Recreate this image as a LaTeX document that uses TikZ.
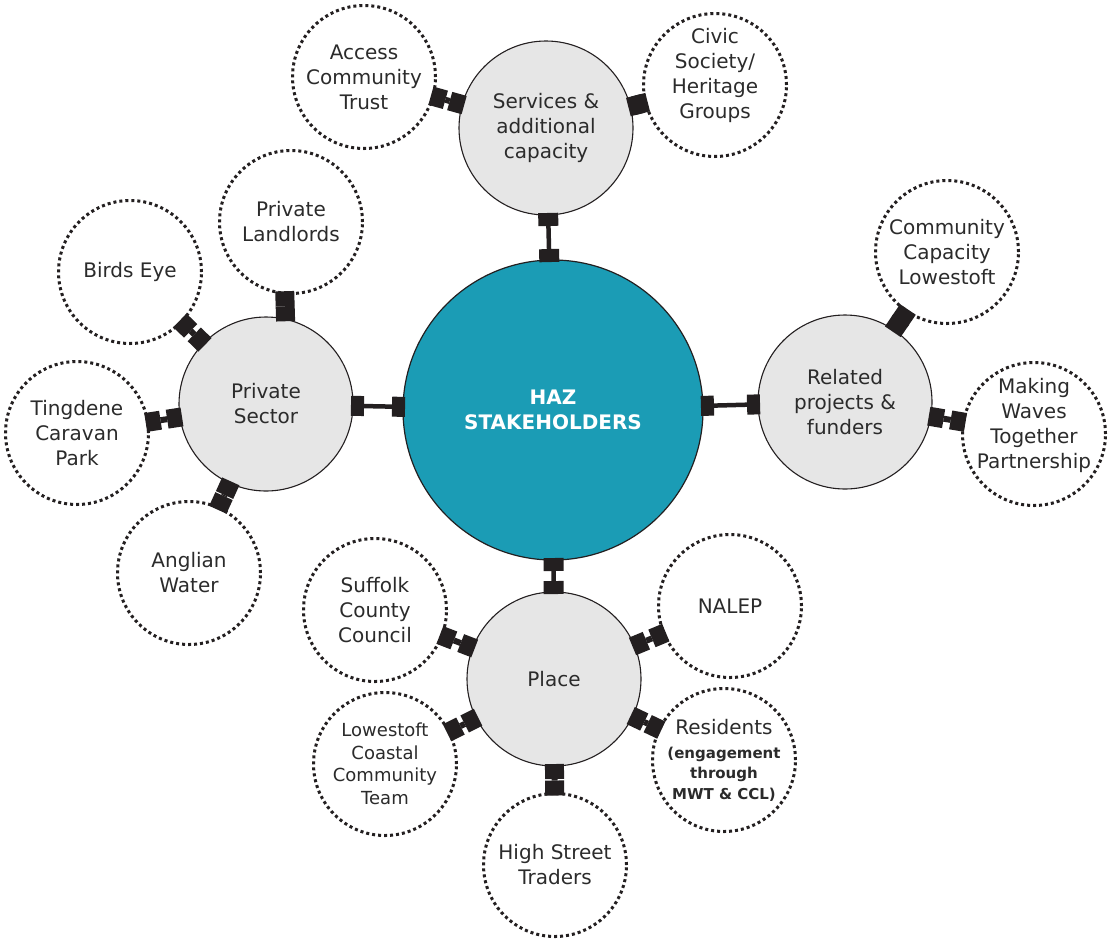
\documentclass[tikz,border=0pt]{standalone}
\usepackage{fontspec}
\setmainfont{DejaVu Sans}
\usetikzlibrary{arrows.meta}
\definecolor{hazteal}{HTML}{1B9CB5}
\definecolor{hubgray}{HTML}{E6E6E6}
\definecolor{ink}{HTML}{231F20}
\definecolor{txt}{HTML}{2B2B2B}
\newcommand{\smallfont}{\fontsize{15}{19}\selectfont\bfseries}
\tikzset{
  blk/.tip={Rectangle[length=13pt,width=20pt,line width=0pt]},
  stub/.tip={Rectangle[length=15pt,width=19pt,line width=0pt]}
}
\begin{document}
\begin{tikzpicture}[x=1pt,y=-1pt,
  every node/.style={font=\fontsize{20}{25}\selectfont, text=txt, align=center,
    inner sep=0pt, outer sep=0pt},
  core/.style={circle, minimum size=300pt, fill=hazteal, draw=ink, line width=1.2pt,
    text=white, font=\bfseries\fontsize{20}{25}\selectfont},
  hub/.style={circle, minimum size=174pt, fill=hubgray, draw=ink, line width=1.1pt},
  leaf/.style={circle, minimum size=143pt, fill=white, draw=ink, line width=3pt,
    dash pattern=on 3pt off 3pt},
  link/.style={draw=ink, line width=4.5pt, {blk}-{blk},
    shorten <=-2pt, shorten >=-2pt},
  spoke/.style={draw=ink, line width=6pt, {stub}-{stub},
    shorten <=-2pt, shorten >=-2pt}
]
\useasboundingbox[fill=white] (0,0) rectangle (1110,938);

% centre and the four hubs
\node[core] (haz) at (553,410) {HAZ\\STAKEHOLDERS};
\node[hub] (svc) at (546,128) {Services \&\\additional\\capacity};
\node[hub] (prv) at (266,404) {Private\\Sector};
\node[hub] (rel) at (845,402) {Related\\projects \&\\funders};
\node[hub] (plc) at (554,679) {Place};

% stakeholders around the hubs
\node[leaf] (act) at (364,77) {Access\\Community\\Trust};
\node[leaf, label={[yshift=10pt]center:Civic\\Society/\\Heritage\\Groups}] (civ) at (715,85) {};
\node[leaf] (pll) at (291,222) {Private\\Landlords};
\node[leaf] (bde) at (130,272) {Birds Eye};
\node[leaf] (tcp) at (77,433) {Tingdene\\Caravan\\Park};
\node[leaf] (awa) at (189,573) {Anglian\\Water};
\node[leaf] (ccl) at (947,252) {Community\\Capacity\\Lowestoft};
\node[leaf, label={[yshift=9pt]center:Making\\Waves\\Together\\Partnership}] (mwt) at (1034,434) {};
\node[leaf] (scc) at (375,610) {Suffolk\\County\\Council};
\node[leaf] (nal) at (730,606) {NALEP};
\node[leaf, font=\fontsize{18}{22.5}\selectfont] (lcc) at (385,764) {Lowestoft\\Coastal\\Community\\Team};
\node[leaf] (res) at (724,760) {Residents\\[-1pt]\smallfont (engagement\\[-5pt]\smallfont through\\[-4pt]\smallfont MWT \& CCL)};
\node[leaf] (hst) at (555,865) {High Street\\Traders};

% hub links
\foreach \a/\b in {haz/svc, haz/prv, haz/rel, haz/plc}
  \draw[link] (\a) -- (\b);
% short spokes out to the stakeholders
\foreach \a/\b in {svc/act, svc/civ,
                   prv/bde, prv/tcp, prv/awa,
                   rel/ccl, rel/mwt,
                   plc/scc, plc/nal, plc/lcc, plc/res, plc/hst}
  \draw[spoke] (\a) -- (\b);
\draw[spoke] (prv.77) -- (pll.-95);
\end{tikzpicture}
\end{document}
